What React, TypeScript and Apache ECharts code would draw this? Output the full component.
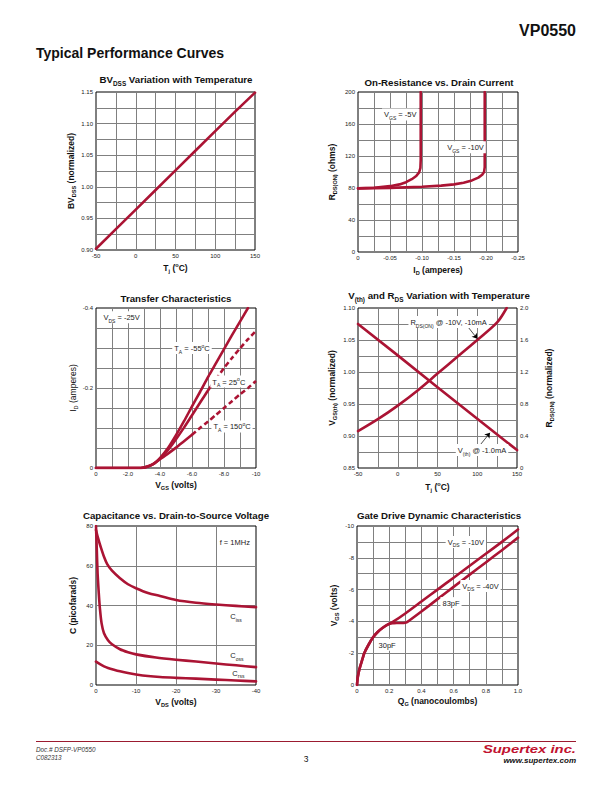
import React, { useEffect, useRef } from 'react';
import * as echarts from 'echarts';

const RED = '#ab1434';
const GC = '#808080';
const F = '"Liberation Sans", Arial, Helvetica, sans-serif';

// ---------- data ----------
// Chart 1: BVdss vs Tj
const bvdssData = [[-50, 0.902], [-25, 0.933], [0, 0.964], [25, 0.995], [50, 1.026], [75, 1.057], [100, 1.088], [125, 1.119], [150, 1.149]];

// Chart 2: On-resistance vs drain current
const rdsVgs5 = [[0, 79.5], [-0.025, 80.3], [-0.05, 82.3], [-0.065, 84.5], [-0.075, 87.3], [-0.084, 91], [-0.091, 95], [-0.0955, 99.5], [-0.0975, 105], [-0.098, 115], [-0.098, 200]];
const rdsVgs10 = [[0, 79.5], [-0.05, 80.2], [-0.1, 81.5], [-0.13, 83], [-0.15, 84.5], [-0.165, 86.5], [-0.178, 89.5], [-0.188, 93], [-0.194, 96.5], [-0.197, 100], [-0.198, 106], [-0.198, 200]];

// Chart 3: Transfer characteristics
const tr55 = [[0, 0], [-2.8, 0], [-3.2, -0.003], [-3.6, -0.01], [-4, -0.025], [-4.5, -0.05], [-5, -0.082], [-5.5, -0.117], [-6, -0.154], [-6.5, -0.19], [-7, -0.227], [-7.5, -0.262], [-8, -0.297], [-8.5, -0.332], [-9, -0.366], [-9.5, -0.4]];
const tr25Solid = [[0, 0], [-2.8, 0], [-3.2, -0.003], [-3.6, -0.01], [-4, -0.024], [-4.5, -0.045], [-5, -0.072], [-5.5, -0.101], [-6, -0.132], [-6.5, -0.163], [-7, -0.194], [-7.5, -0.222]];
const tr25Dash = [[-7.5, -0.222], [-8, -0.25], [-8.5, -0.275], [-9, -0.299], [-9.5, -0.322], [-10, -0.343]];
const tr150Solid = [[0, 0], [-2.8, 0], [-3.2, -0.004], [-3.6, -0.011], [-4, -0.022], [-4.5, -0.036], [-5, -0.051], [-5.5, -0.067], [-6, -0.083]];
const tr150Dash = [[-6, -0.083], [-6.5, -0.1], [-7, -0.116], [-7.5, -0.133], [-8, -0.15], [-8.5, -0.167], [-9, -0.184], [-9.5, -0.2], [-10, -0.2175]];

// Chart 4: Vth and Rds vs temperature
const vthData = [[-50, 1.075], [0, 1.026], [50, 0.976], [100, 0.927], [150, 0.878]];
const rdsTemp = [[-50, 0.46], [-25, 0.61], [0, 0.78], [25, 0.97], [50, 1.18], [75, 1.39], [100, 1.6], [125, 1.82], [137, 2.0]];

// Chart 5: Capacitance
const ciss = [[0, 78], [-0.5, 74], [-1.2, 69.3], [-2, 64.5], [-2.8, 60.8], [-4, 57.5], [-6, 53.7], [-8, 50.7], [-10, 48.7], [-13, 46.3], [-16, 44.8], [-20, 42.8], [-25, 41.4], [-30, 40.5], [-35, 39.8], [-40, 39.2]];
const coss = [[0, 80], [-0.2, 68], [-0.4, 56], [-0.7, 46], [-1, 38], [-1.4, 31], [-2, 26], [-3, 22.5], [-4, 20.5], [-6, 18], [-8, 16.5], [-10, 15.4], [-15, 13.8], [-20, 12.7], [-25, 11.8], [-30, 10.8], [-35, 9.9], [-40, 9]];
const crss = [[0, 11.8], [-1, 10.5], [-2, 9.4], [-3, 8.6], [-4.5, 7.7], [-6, 6.9], [-8, 6], [-10, 5.3], [-13, 4.5], [-16, 4], [-20, 3.6], [-25, 3.2], [-30, 2.7], [-35, 2.3], [-40, 1.8]];

// Chart 6: Gate charge
const gate10 = [[0, 0], [0.005, -0.5], [0.015, -1], [0.03, -1.5], [0.045, -2], [0.07, -2.5], [0.1, -3], [0.13, -3.35], [0.16, -3.6], [0.19, -3.8], [0.22, -3.95], [0.3, -4.5], [0.4, -5.25], [0.5, -6], [0.6, -6.75], [0.7, -7.5], [0.8, -8.25], [0.9, -9.0], [1.0, -9.78]];
const gate40 = [[0, 0], [0.005, -0.5], [0.015, -1], [0.03, -1.5], [0.045, -2], [0.07, -2.5], [0.1, -3], [0.13, -3.35], [0.16, -3.6], [0.19, -3.8], [0.22, -3.88], [0.25, -3.9], [0.3, -3.92], [0.32, -4.02], [0.4, -4.62], [0.5, -5.4], [0.6, -6.17], [0.7, -6.94], [0.8, -7.71], [0.9, -8.48], [1.0, -9.27]];

// annotation texts [x, y, text] per (xAxisIndex, yAxisIndex)
const notes2: [number, number, string][] = [[-0.066, 172, '{n|V}{s|GS}{n| = -5V}'], [-0.168, 131, '{n|V}{s|GS}{n| = -10V}']];
const notes3: [number, number, string][] = [
  [-1.6, -0.377, '{n|V}{s|DS}{n| = -25V}'],
  [-6.0, -0.3, '{n|T}{s|A}{n| = -55}{u|o}{n|C}'],
  [-8.3, -0.216, '{n|T}{s|A}{n| = 25}{u|o}{n|C}'],
  [-8.5, -0.104, '{n|T}{s|A}{n| = 150}{u|o}{n|C}'],
];
const notes4: [number, number, string][] = [[64, 1.078, '{n|R}{s|DS(ON)}{n| @ -10V, -10mA}'], [106, 0.878, '{n|V}{s|(th)}{n| @ -1.0mA}']];
const notes5: [number, number, string][] = [[-34.7, 71.6, '{n|f = 1MHz}'], [-35, 34.4, '{n|C}{s|iss}'], [-35.2, 14.6, '{n|C}{s|oss}'], [-35.6, 5.9, '{n|C}{s|rss}']];
const notes6: [number, number, string][] = [[0.676, -9.0, '{n|V}{s|DS}{n| = -10V}'], [0.767, -6.23, '{n|V}{s|DS}{n| = -40V}'], [0.584, -5.15, '{n|83pF}'], [0.187, -2.53, '{n|30pF}']];
const arrows4 = [[[88, 1.071], [100, 1.052]], [[103, 0.885], [116, 0.905]]];

// ---------- helpers ----------
function mkRich(size: number, weight: string, color = '#111') {
  const sub = +(size * 0.66).toFixed(1);
  return {
    n: { fontFamily: F, fontSize: size, fontWeight: weight, fill: color, color, lineHeight: Math.round(size * 1.45) },
    s: { fontFamily: F, fontSize: sub, fontWeight: weight, fill: color, color, lineHeight: sub, verticalAlign: 'bottom' },
    u: { fontFamily: F, fontSize: sub, fontWeight: weight, fill: color, color, lineHeight: sub, verticalAlign: 'top' },
  };
}
const R_AX = mkRich(8.5, 'bold');
const R_AXN = mkRich(8.5, 'normal');
const R_TITLE = mkRich(9.7, 'bold');
const R_ANN = mkRich(7.5, 'normal', '#222');

function axis(o: any) {
  return {
    type: 'value',
    gridIndex: o.grid,
    min: o.min,
    max: o.max,
    interval: o.interval,
    inverse: !!o.inverse,
    position: o.pos,
    name: o.name,
    nameLocation: 'middle',
    nameGap: o.gap,
    nameRotate: o.rot,
    nameTextStyle: { rich: o.normal ? R_AXN : R_AX },
    axisLine: { show: false, onZero: false },
    axisTick: { show: false },
    minorTick: { show: false, splitNumber: o.minor || 2 },
    axisLabel: { fontFamily: F, fontSize: 6, color: '#222', margin: 3, formatter: o.fmt, showMinLabel: true, showMaxLabel: true },
    splitLine: { show: o.split !== false, showMinLine: false, showMaxLine: false, lineStyle: { color: GC, width: 1 } },
    minorSplitLine: { show: o.split !== false && !!o.minor, lineStyle: { color: GC, width: 1 } },
  };
}

function line(xi: number, yi: number, data: number[][], extra: any = {}) {
  return {
    type: 'line', xAxisIndex: xi, yAxisIndex: yi, data, showSymbol: false, symbol: 'none',
    smooth: 0.25, silent: true, z: 3, color: RED,
    lineStyle: { color: RED, width: 2.6, cap: 'round', join: 'round' },
    ...extra,
  };
}

function txt(x: number, y: number, text: string, o: any = {}) {
  return {
    type: 'text', x, y, silent: true, scaleX: o.scaleX || 1, z: 10,
    style: {
      text, rich: o.rich, align: o.align || 'left', verticalAlign: 'middle',
      fontFamily: F, fontSize: o.size || 8, fontWeight: o.weight || 'normal', fontStyle: o.style || 'normal',
      fill: o.color || '#111',
      backgroundColor: o.bg, padding: o.bg ? [1, 2, 0, 2] : undefined,
    },
  };
}

const f2 = (v: number) => v.toFixed(2);
const fz2 = (v: number) => (Math.abs(v) < 1e-9 ? '0' : v.toFixed(2));
const fint = (v: number) => String(Math.round(v));
const dashed = { lineStyle: { color: RED, width: 2.6, type: [5, 3] } };

export default function App() {
  const ref = useRef<HTMLDivElement>(null);
  useEffect(() => {
    if (!ref.current) return;
    const chart = echarts.init(ref.current, undefined, { renderer: 'svg' });
    const gridBase = { show: true, borderColor: '#000', borderWidth: 1, backgroundColor: 'transparent', containLabel: false };
    const baseGraphics: any[] = [
      txt(576, 30, 'VP0550', { align: 'right', size: 16, weight: 'bold' }),
      txt(36, 53, 'Typical Performance Curves', { size: 14, weight: 'bold' }),
      txt(176, 79, '{n|BV}{s|DSS}{n| Variation with Temperature}', { align: 'center', rich: R_TITLE }),
      txt(439, 82, '{n|On-Resistance vs. Drain Current}', { align: 'center', rich: R_TITLE }),
      txt(176, 298, '{n|Transfer Characteristics}', { align: 'center', rich: R_TITLE }),
      txt(439, 295, '{n|V}{s|(th)}{n| and R}{s|DS}{n| Variation with Temperature}', { align: 'center', rich: R_TITLE }),
      txt(176, 515, '{n|Capacitance vs. Drain-to-Source Voltage}', { align: 'center', rich: R_TITLE }),
      txt(439, 515, '{n|Gate Drive Dynamic Characteristics}', { align: 'center', rich: R_TITLE }),
      { type: 'line', silent: true, shape: { x1: 36, y1: 741.5, x2: 576, y2: 741.5 }, style: { stroke: '#9b1b30', lineWidth: 1 } },
      txt(36, 749, 'Doc.# DSFP-VP0550', { size: 6.3, style: 'italic', color: '#333' }),
      txt(36, 757, 'C082313', { size: 6.3, style: 'italic', color: '#333' }),
      txt(306, 759, '3', { align: 'center', size: 8.5 }),
      txt(576, 749, 'Supertex inc.', { align: 'right', size: 11, weight: 'bold', style: 'italic', color: '#c1122f', scaleX: 1.35 }),
      txt(576, 760, 'www.supertex.com', { align: 'right', size: 8, weight: 'bold', style: 'italic', color: '#111' }),
    ];
    const option: any = {
      animation: false,
      grid: [
        { ...gridBase, left: 96, top: 92, width: 159, height: 158 },
        { ...gridBase, left: 358, top: 92, width: 160, height: 160 },
        { ...gridBase, left: 96, top: 308, width: 160, height: 160 },
        { ...gridBase, left: 358, top: 308, width: 159, height: 160 },
        { ...gridBase, left: 96, top: 526, width: 160, height: 159 },
        { ...gridBase, left: 357, top: 526, width: 161, height: 159 },
      ],
      xAxis: [
        axis({ grid: 0, min: -50, max: 150, interval: 50, minor: 2, fmt: fint, name: '{n|T}{s|j}{n| (}{u|o}{n|C)}', gap: 12 }),
        axis({ grid: 1, min: -0.25, max: 0, interval: 0.05, minor: 2, inverse: true, fmt: fz2, name: '{n|I}{s|D}{n| (amperes)}', gap: 12 }),
        axis({ grid: 2, min: -10, max: 0, interval: 2, minor: 2, inverse: true, fmt: (v: number) => (v === 0 ? '0' : v === -10 ? '-10' : v.toFixed(1)), name: '{n|V}{s|GS}{n| (volts)}', gap: 11 }),
        axis({ grid: 3, min: -50, max: 150, interval: 50, minor: 2, fmt: fint, name: '{n|T}{s|j}{n| (}{u|o}{n|C)}', gap: 13 }),
        axis({ grid: 4, min: -40, max: 0, interval: 10, inverse: true, fmt: fint, name: '{n|V}{s|DS}{n| (volts)}', gap: 11 }),
        axis({ grid: 5, min: 0, max: 1, interval: 0.2, minor: 2, fmt: (v: number) => (v === 0 ? '0' : v.toFixed(1)), name: '{n|Q}{s|G}{n| (nanocoulombs)}', gap: 10 }),
      ],
      yAxis: [
        axis({ grid: 0, min: 0.9, max: 1.15, interval: 0.05, minor: 2, fmt: f2, name: '{n|BV}{s|DSS}{n| (normalized)}', gap: 19, rot: 90 }),
        axis({ grid: 1, min: 0, max: 200, interval: 40, minor: 2, fmt: fint, name: '{n|R}{s|DS(ON)}{n| (ohms)}', gap: 20, rot: 90 }),
        axis({ grid: 2, min: -0.4, max: 0, interval: 0.2, minor: 4, inverse: true, fmt: (v: number) => (Math.abs(v) < 1e-9 ? '0' : v.toFixed(1)), name: '{n|I}{s|D}{n| (amperes)}', gap: 17, rot: 90, normal: true }),
        axis({ grid: 3, min: 0.85, max: 1.1, interval: 0.05, minor: 2, fmt: f2, name: '{n|V}{s|GS(th)}{n| (normalized)}', gap: 20, rot: 90 }),
        axis({ grid: 3, min: 0, max: 2, interval: 0.4, pos: 'right', split: false, fmt: (v: number) => (v === 0 ? '0' : v.toFixed(1)), name: '{n|R}{s|DS(ON)}{n| (normalized)}', gap: 26, rot: 90 }),
        axis({ grid: 4, min: 0, max: 80, interval: 20, fmt: fint, name: '{n|C (picofarads)}', gap: 17, rot: 90 }),
        axis({ grid: 5, min: -10, max: 0, interval: 2, minor: 2, inverse: true, fmt: fint, name: '{n|V}{s|GS}{n| (volts)}', gap: 17, rot: 90 }),
      ],
      series: [
        line(0, 0, bvdssData, { smooth: false }),
        line(1, 1, rdsVgs5, { smooth: false }),
        line(1, 1, rdsVgs10, { smooth: false }),
        line(2, 2, tr55),
        line(2, 2, tr25Solid),
        line(2, 2, tr25Dash, dashed),
        line(2, 2, tr150Solid),
        line(2, 2, tr150Dash, dashed),
        line(3, 3, vthData, {
          smooth: false,
          markLine: {
            silent: true, symbol: ['none', 'arrow'], symbolSize: 5,
            lineStyle: { color: '#000', width: 0.7, type: 'solid' },
            label: { show: false },
            data: arrows4.map(([a, b]) => [{ coord: a }, { coord: b }]),
          },
        }),
        line(3, 4, rdsTemp, { smooth: 0.3 }),
        line(4, 5, ciss, { smooth: 0.3 }),
        line(4, 5, coss, { smooth: 0.2 }),
        line(4, 5, crss, { smooth: 0.3 }),
        line(5, 6, gate10, { smooth: 0.2 }),
        line(5, 6, gate40, { smooth: 0.2 }),
      ],
      graphic: baseGraphics,
    };
    chart.setOption(option);

    // annotations anchored to data coordinates through the chart's own axes
    const groups: [number, number, [number, number, string][], boolean][] = [
      [1, 1, notes2, true],
      [2, 2, notes3, true],
      [3, 3, notes4, true],
      [4, 5, notes5, false],
      [5, 6, notes6, true],
    ];
    const ann: any[] = [];
    groups.forEach(([xi, yi, items, bg]) => {
      items.forEach(([x, y, t]) => {
        const p = chart.convertToPixel({ xAxisIndex: xi, yAxisIndex: yi } as any, [x, y]) as number[];
        if (p) ann.push(txt(p[0], p[1], t, { align: 'center', rich: R_ANN, bg: bg ? '#fff' : undefined }));
      });
    });
    chart.setOption({ graphic: [...baseGraphics, ...ann] });
    return () => chart.dispose();
  }, []);
  return <div ref={ref} style={{ position: 'absolute', left: 0, top: 0, width: 612, height: 792, background: '#fff' }} />;
}
